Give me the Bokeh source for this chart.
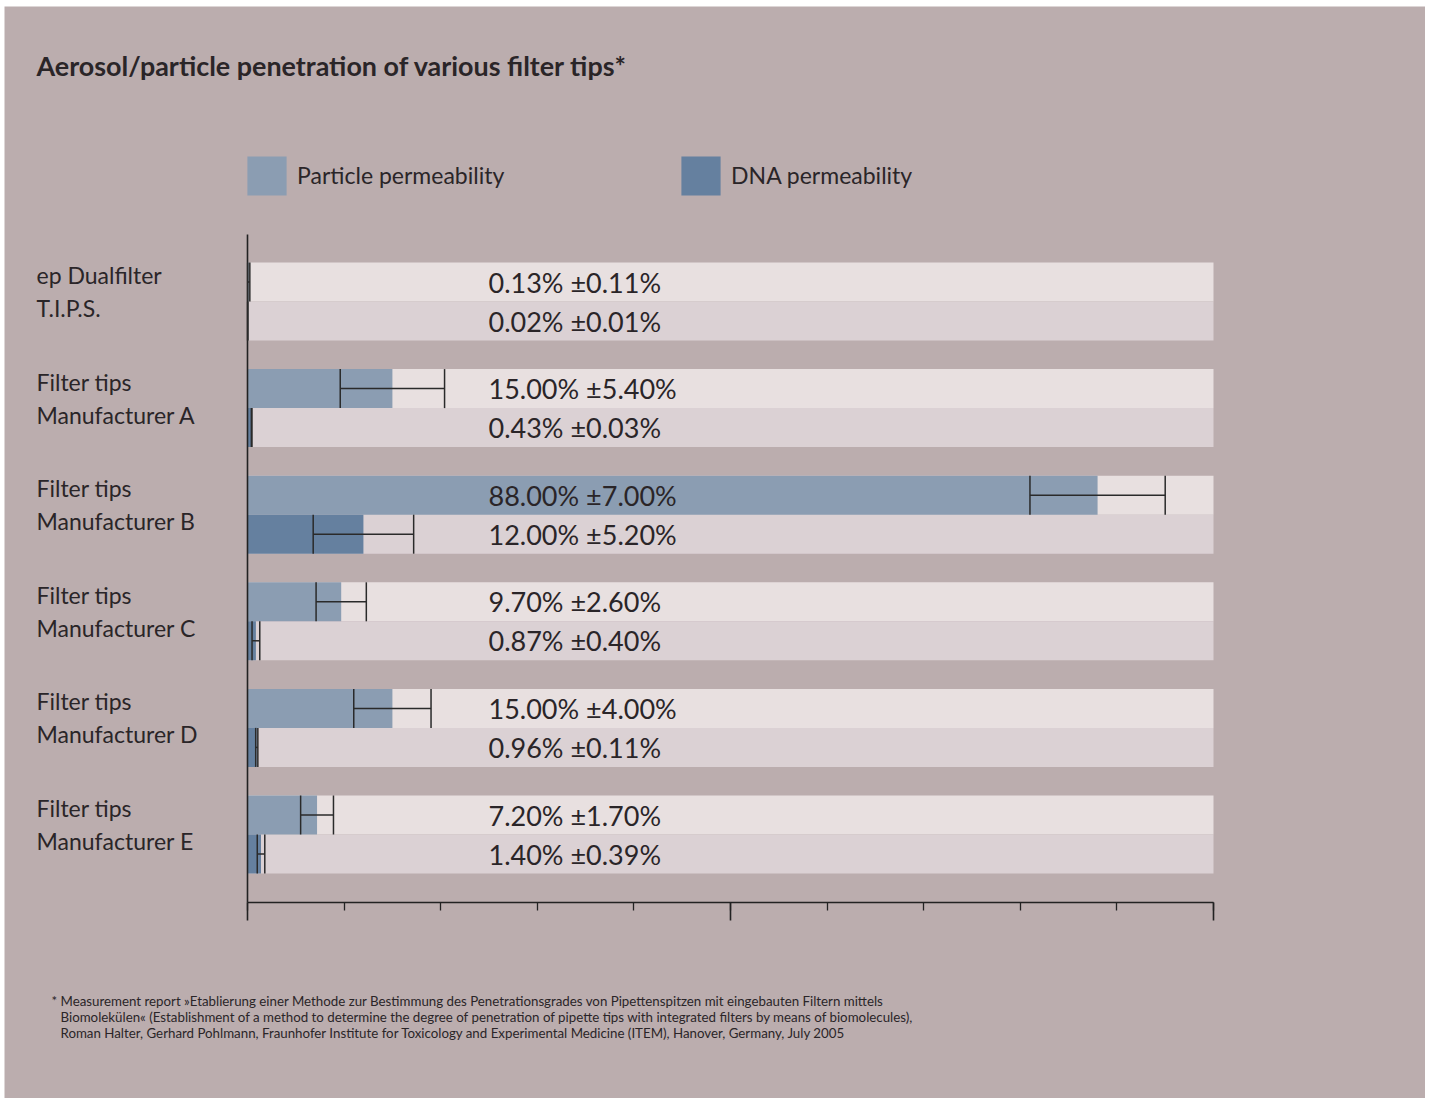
from bokeh.plotting import figure
from bokeh.models import (ColumnDataSource, Range1d, LinearAxis, FixedTicker, Whisker,
                          TeeHead, Label, Legend, LegendItem)
from bokeh.embed import file_html
from bokeh.resources import INLINE
from bokeh.core.properties import value

# ---------------- data ----------------
categories = ["ep Dualfilter\nT.I.P.S.", "Filter tips\nManufacturer A", "Filter tips\nManufacturer B",
              "Filter tips\nManufacturer C", "Filter tips\nManufacturer D", "Filter tips\nManufacturer E"]
particle = [0.13, 15.00, 88.00, 9.70, 15.00, 7.20]
particle_err = [0.11, 5.40, 7.00, 2.60, 4.00, 1.70]
dna = [0.02, 0.43, 12.00, 0.87, 0.96, 1.40]
dna_err = [0.01, 0.03, 5.20, 0.40, 0.11, 0.39]
series_names = ["Particle permeability", "DNA permeability"]
x_major_ticks = [0, 50, 100]
x_minor_ticks = [0, 10, 20, 30, 40, 50, 60, 70, 80, 90, 100]
title_text = "Aerosol/particle penetration of various filter tips*"
footnote_lines = [
    "Measurement report \u00bbEtablierung einer Methode zur Bestimmung des Penetrationsgrades von Pipettenspitzen mit eingebauten Filtern mittels",
    "Biomolek\u00fclen\u00ab (Establishment of a method to determine the degree of penetration of pipette tips with integrated filters by means of biomolecules),",
    "Roman Halter, Gerhard Pohlmann, Fraunhofer Institute for Toxicology and Experimental Medicine (ITEM), Hanover, Germany, July 2005",
]

# ---------------- style ----------------
BG = "#bbadae"
STRIP_P = "#e8e0e0"
STRIP_D = "#dbd1d4"
COL_P = "#8b9db2"
COL_D = "#65809f"
TXT = "#2a2528"
AX = "#222222"
FONT = "Lato"

# figure placement on the page (left, top) and size
OX, OY = 4, 6
W, H = 1421, 1092

# plot geometry (page pixels)
X0_PX, X100_PX = 247, 1213          # where 0 % and 100 % fall
PXX = (X100_PX - X0_PX) / 100.0     # px per percent
G0_PX, G_STEP = 301, 106.6          # centre of first group, spacing of groups
AXIS_TOP_PX, AXIS_BOT_PX = 234, 902


def dx(page_x):
    return (page_x - X0_PX) / PXX


def dy(page_y):
    return (page_y - G0_PX) / G_STEP


BAR_H = 39 / G_STEP
OFF = BAR_H / 2

n = len(categories)
idx = list(range(n))
y_p = [i - OFF for i in idx]
y_d = [i + OFF for i in idx]

p = figure(width=W, height=H, output_backend="svg", toolbar_location=None,
           x_range=Range1d(dx(OX), dx(OX + W)), y_range=Range1d(dy(OY + H), dy(OY)),
           x_axis_type=None, y_axis_type=None,
           min_border=0, min_border_left=0, min_border_right=0, min_border_top=0, min_border_bottom=0)
p.margin = (OY, 0, 0, OX)
p.title.visible = False
p.background_fill_color = BG
p.border_fill_color = BG
p.outline_line_color = None
p.xgrid.visible = False
p.ygrid.visible = False

# axes (fixed inside the canvas)
xaxis = LinearAxis(ticker=FixedTicker(ticks=x_major_ticks, minor_ticks=x_minor_ticks),
                   fixed_location=dy(AXIS_BOT_PX), bounds=(0, 100),
                   major_tick_out=18, major_tick_in=0, minor_tick_out=8, minor_tick_in=0,
                   axis_line_color=AX, axis_line_width=1.6,
                   major_tick_line_color=AX, major_tick_line_width=1.6,
                   minor_tick_line_color=AX, minor_tick_line_width=1.3,
                   major_label_text_color=None,
                   major_label_overrides={t: "" for t in x_major_ticks})
p.add_layout(xaxis, "below")
yaxis = LinearAxis(ticker=FixedTicker(ticks=[]), fixed_location=0,
                   bounds=(dy(AXIS_TOP_PX), dy(AXIS_BOT_PX)),
                   axis_line_color=AX, axis_line_width=1.6,
                   major_label_text_color=None, major_tick_line_color=None,
                   minor_tick_line_color=None)
p.add_layout(yaxis, "left")

# background strips
p.hbar(y=y_p, left=0, right=100, height=BAR_H, fill_color=STRIP_P, line_color=None)
p.hbar(y=y_d, left=0, right=100, height=BAR_H, fill_color=STRIP_D, line_color=None)

# bars
src_p = ColumnDataSource(dict(y=y_p, v=particle,
                              lo=[v - e for v, e in zip(particle, particle_err)],
                              hi=[v + e for v, e in zip(particle, particle_err)],
                              lab=["%.2f%% \u00b1%.2f%%" % (v, e) for v, e in zip(particle, particle_err)]))
src_d = ColumnDataSource(dict(y=y_d, v=dna,
                              lo=[v - e for v, e in zip(dna, dna_err)],
                              hi=[v + e for v, e in zip(dna, dna_err)],
                              lab=["%.2f%% \u00b1%.2f%%" % (v, e) for v, e in zip(dna, dna_err)]))
r_p = p.hbar(y="y", left=0, right="v", height=BAR_H, fill_color=COL_P, line_color=None, source=src_p)
r_d = p.hbar(y="y", left=0, right="v", height=BAR_H, fill_color=COL_D, line_color=None, source=src_d)

for src in (src_p, src_d):
    p.add_layout(Whisker(source=src, base="y", lower="lo", upper="hi", dimension="width",
                         level="overlay", line_color="#2a2a2a", line_width=1.5,
                         lower_head=TeeHead(size=39, line_color="#2a2a2a", line_width=1.5),
                         upper_head=TeeHead(size=39, line_color="#2a2a2a", line_width=1.5)))
    p.text(x=dx(488), y="y", text="lab", source=src, text_font=value(FONT), text_font_size="27px",
           text_color=TXT, text_align="left", text_baseline="middle")

# category labels (two lines each)
cat_src = ColumnDataSource(dict(
    x=[dx(36)] * n,
    y1=[i + dy(274.5) - dy(301) for i in idx], y2=[i + dy(307.5) - dy(301) for i in idx],
    t1=[c.split("\n")[0] for c in categories], t2=[c.split("\n")[1] for c in categories]))
for yk, tk in (("y1", "t1"), ("y2", "t2")):
    p.text(x="x", y=yk, text=tk, source=cat_src, text_font=value(FONT),
           text_font_size="23px", text_color=TXT, text_align="left", text_baseline="middle")

# title
p.add_layout(Label(x=dx(36), y=dy(65), text=title_text, text_font=FONT,
                   text_font_style="bold", text_font_size="26.9px", text_color=TXT,
                   text_align="left", text_baseline="middle"))

# footnote
p.add_layout(Label(x=dx(51), y=dy(1000), text="*", text_font=FONT,
                   text_font_size="13.3px", text_color=TXT, text_align="left", text_baseline="middle"))
for k, line in enumerate(footnote_lines):
    p.add_layout(Label(x=dx(60), y=dy(1000 + 16 * k), text=line,
                       text_font=FONT, text_font_size="13.3px", text_color=TXT,
                       text_align="left", text_baseline="middle"))

# legend (location measured from the bottom-left of the canvas, y upwards)
GW = 49
inset = GW * 0.1
leg_left = (247 - OX) - inset
leg_bottom = (OY + H) - (195 + inset)
legend = Legend(items=[LegendItem(label=series_names[0], renderers=[r_p]),
                       LegendItem(label=series_names[1], renderers=[r_d])],
                orientation="horizontal", location=(leg_left, leg_bottom),
                glyph_width=GW, glyph_height=GW, label_standoff=6,
                label_width=int(round(681 - 247 - GW - 6)), spacing=0,
                padding=0, margin=0, border_line_color=None, background_fill_alpha=0,
                label_text_font=FONT, label_text_font_size="23px", label_text_color=TXT)
p.add_layout(legend, "center")

open("out.html", "w").write(file_html(p, INLINE))
